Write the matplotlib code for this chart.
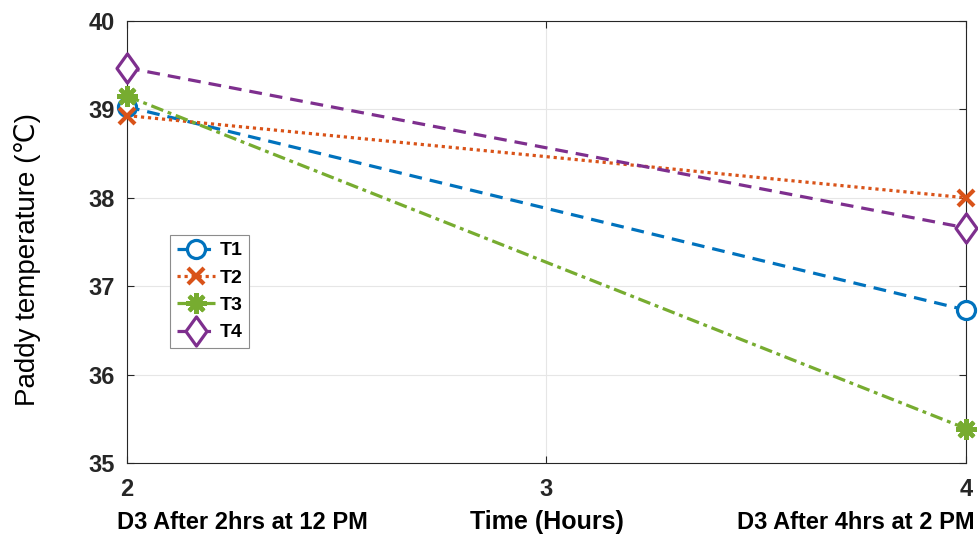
import matplotlib.pyplot as plt
from matplotlib.path import Path

plt.rcParams['font.family'] = ['Liberation Sans', 'DejaVu Sans']

# data
hours = [2, 4]
t1 = [39.03, 36.73]
t2 = [38.93, 38.00]
t3 = [39.15, 35.39]
t4 = [39.47, 37.66]
series_names = ['T1', 'T2', 'T3', 'T4']
x_ticks = [2, 3, 4]
y_ticks = [35, 36, 37, 38, 39, 40]

# matlab default colours
colors = ['#0072BD', '#D95319', '#77AC30', '#7E2F8E']

diamond = Path([(0, 1), (0.72, 0), (0, -1), (-0.72, 0), (0, 1)],
               [Path.MOVETO, Path.LINETO, Path.LINETO, Path.LINETO, Path.CLOSEPOLY])

fig = plt.figure(figsize=(9.79, 5.38), dpi=100)
ax = fig.add_axes([0.1297, 0.1394, 0.857, 0.8216])

lw = 2.3
ax.plot(hours, t1, color=colors[0], ls=(0, (4, 2.5)), lw=lw, marker='o', ms=13,
        mfc='white', mew=2.3, label=series_names[0], clip_on=False, zorder=3)
ax.plot(hours, t2, color=colors[1], ls=(0, (1, 1.2)), lw=lw, marker='x', ms=11,
        mew=3, label=series_names[1], clip_on=False, zorder=3)
ax.plot(hours, t3, color=colors[2], ls=(0, (4, 1.5, 1.2, 1.5)), lw=lw, marker=(8, 2, 0),
        ms=15, mew=3, label=series_names[2], clip_on=False, zorder=3)
ax.plot(hours, t4, color=colors[3], ls=(0, (4, 2.5)), lw=lw, marker=diamond, ms=21,
        mfc='white', mew=2.3, label=series_names[3], clip_on=False, zorder=3)

ax.set_xlim(2, 4)
ax.set_ylim(35, 40)
ax.set_xticks(x_ticks)
ax.set_yticks(y_ticks)
ax.tick_params(direction='in', length=5, width=0.8, colors='#262626', labelsize=17,
               top=True, right=True)
ax.tick_params(axis='x', pad=11)
ax.tick_params(axis='y', pad=9)
for lab in ax.get_xticklabels() + ax.get_yticklabels():
    lab.set_fontweight('bold')
ax.grid(True, color='#e6e6e6', lw=0.8)
ax.set_axisbelow(True)
for sp in ax.spines.values():
    sp.set_color('#262626')
    sp.set_linewidth(0.8)

ax.set_ylabel('Paddy temperature (\u2103)', fontsize=20)
ax.yaxis.set_label_coords(-0.102, 0.46)
ax.set_xlabel('Time (Hours)', fontsize=18, fontweight='bold', labelpad=6)
ax.text(-0.012, -0.135, 'D3 After 2hrs at 12 PM', transform=ax.transAxes, fontsize=17,
        fontweight='bold', ha='left', va='center')
ax.text(1.01, -0.135, 'D3 After 4hrs at 2 PM', transform=ax.transAxes, fontsize=17,
        fontweight='bold', ha='right', va='center')

leg = ax.legend(loc='upper left', bbox_to_anchor=(0.051, 0.516), fontsize=14,
                handlelength=2.0, handletextpad=0.2, borderpad=0.35, labelspacing=0.5,
                fancybox=False, framealpha=1, edgecolor='#8c8c8c', borderaxespad=0)
leg.get_frame().set_linewidth(0.8)
for t in leg.get_texts():
    t.set_fontweight('bold')

fig.savefig('out.png', dpi=100)
